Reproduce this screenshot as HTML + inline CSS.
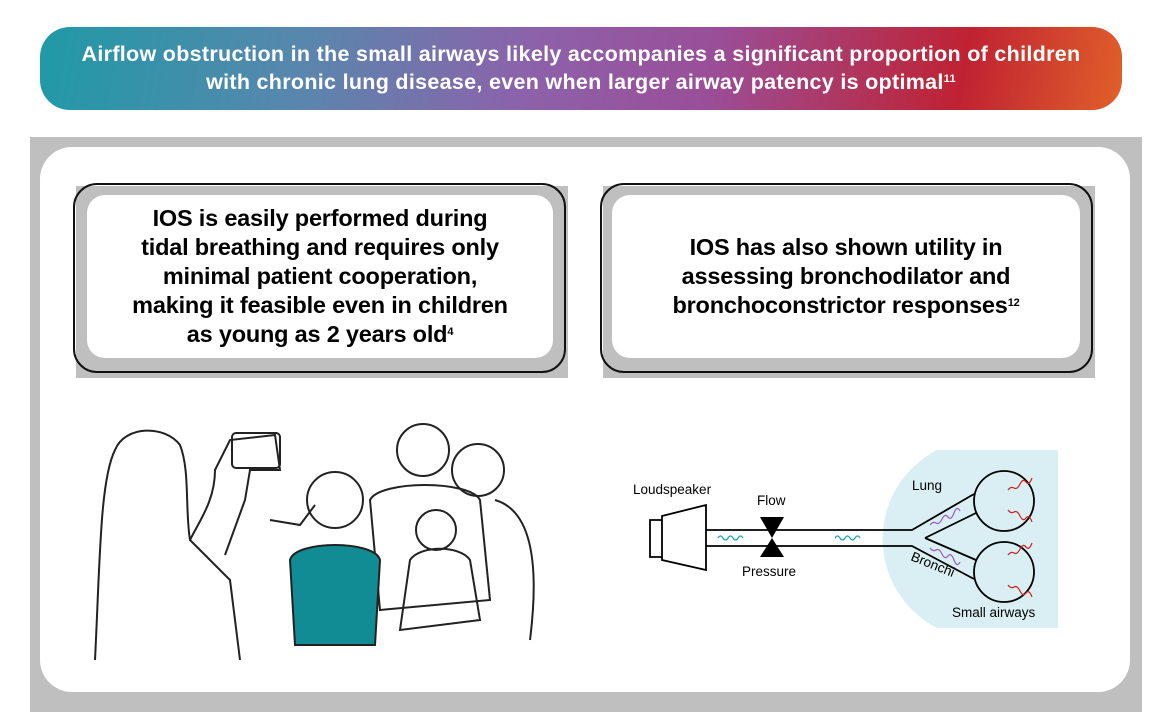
<!DOCTYPE html>
<html><head><meta charset="utf-8"><style>
body{margin:0;width:1162px;height:727px;background:#fff;position:relative;overflow:hidden;font-family:"Liberation Sans",Arial,sans-serif}
.hdr{position:absolute;left:40px;top:27px;width:1082px;height:83px;border-radius:30px;background:linear-gradient(100deg,#1f9aa6 0%,#5a86ad 25%,#8c62aa 45%,#9a4e98 62%,#c02232 85%,#e0602a 100%);color:#fff;font-weight:bold;font-size:21.5px;letter-spacing:0.3px;text-align:center;line-height:28px;padding-top:13px;box-sizing:border-box;white-space:nowrap}
sup{font-size:11px;vertical-align:7px;line-height:0}
.gray{position:absolute;left:30px;top:137px;width:1112px;height:575px;background:#bfbfbf}
.white{position:absolute;left:40px;top:147px;width:1090px;height:545px;background:#fff;border-radius:32px}
.cg{position:absolute;background:#bfbfbf}
.cb{position:absolute;border:2px solid #111;border-radius:24px;box-sizing:border-box}
.ci{position:absolute;background:#fff;border-radius:18px;display:flex;align-items:center;justify-content:center;text-align:center;font-weight:bold;font-size:23.5px;line-height:29px;color:#000;white-space:nowrap;letter-spacing:-0.2px}
</style></head><body>
<div class="hdr">Airflow obstruction in the small airways likely accompanies a significant proportion of children<br>with chronic lung disease, even when larger airway patency is optimal<sup>11</sup></div>
<div class="gray"></div><div class="white"></div>
<div class="cg" style="left:76px;top:186px;width:492px;height:192px"></div>
<div class="cb" style="left:73px;top:183px;width:493px;height:190px"></div>
<div class="ci" style="left:87px;top:195px;width:466px;height:163px"><div>IOS is easily performed during<br>tidal breathing and requires only<br>minimal patient cooperation,<br>making it feasible even in children<br>as young as 2 years old<sup>4</sup></div></div>
<div class="cg" style="left:603px;top:186px;width:492px;height:192px"></div>
<div class="cb" style="left:600px;top:183px;width:493px;height:190px"></div>
<div class="ci" style="left:612px;top:195px;width:468px;height:163px"><div>IOS has also shown utility in<br>assessing bronchodilator and<br>bronchoconstrictor responses<sup>12</sup></div></div>

<svg style="position:absolute;left:0;top:0" width="1162" height="727">
<g fill="none" stroke="#222" stroke-width="2">
<path d="M95 660 C100 560 100 480 115 450 C125 425 165 425 180 445 C190 470 185 510 190 540 L230 580 L240 660"/>
<path d="M190 540 C200 520 215 500 215 470 L230 440 L275 435 L280 470 L250 470 L245 500 L225 555"/>
<rect x="232" y="433" width="48" height="35" rx="4"/>
<path d="M270 520 L300 525 L315 505"/>
<circle cx="335" cy="500" r="28"/>
<circle cx="423" cy="450" r="26"/>
<path d="M370 500 C380 480 470 480 480 500 L490 600 L380 610 Z"/>
<circle cx="478" cy="470" r="26"/>
<circle cx="436" cy="530" r="20"/>
<path d="M410 560 C420 545 460 545 470 560 L480 620 L400 630 Z"/>
<path d="M495 500 C530 510 540 560 530 640"/>
</g>
<path d="M290 560 C295 540 375 540 380 560 L375 645 L295 645 Z" fill="#118c95" stroke="#222" stroke-width="2"/>
<path d="M937 450 L1058 450 L1058 628 L937 628 A100 100 0 0 1 937 450 Z" fill="#daeff3"/>
<g fill="none" stroke="#000" stroke-width="1.8">
<path d="M650 520 L662 520 L662 557 L650 557 Z M662 516 L706 505 L706 570 L662 560 Z"/>
<path d="M706 530 L912 530 L974 494 M706 546 L912 546 L974 579 M925 538 L976 513 M925 538 L976 560"/>
<circle cx="1004" cy="501" r="30"/><circle cx="1004" cy="572" r="30"/>
</g>
<path d="M760 517 L784 517 L772 538 Z M772 538 L760 557 L784 557 Z" fill="#000"/>
<g fill="none" stroke="#1aa8b4" stroke-width="1.2"><path d="M718 538 q2.5 -4 5 0 t5 0 t5 0 t5 0 t5 0"/><path d="M835 538 q2.5 -4 5 0 t5 0 t5 0 t5 0 t5 0"/></g>
<g fill="none" stroke="#9a5cc0" stroke-width="1.2"><path d="M930 525 q3 -4 6 -2 t6 -4 t6 -2 t6 -4 t6 -2"/><path d="M930 548 q3 4 6 2 t6 4 t6 2 t6 4 t6 2"/></g>
<g fill="none" stroke="#d02020" stroke-width="1.2"><path d="M1008 490 q3 -4 6 -2 t6 -4 t6 -2 t6 -4"/><path d="M1008 510 q3 4 6 2 t6 4 t6 2 t6 4"/><path d="M1008 555 q3 -4 6 -2 t6 -4 t6 -2 t6 -4"/><path d="M1008 585 q3 4 6 2 t6 4 t6 2 t6 4"/></g>
<g font-family="Liberation Sans,sans-serif" font-size="13.5" fill="#000">
<text x="633" y="494">Loudspeaker</text><text x="757" y="505">Flow</text><text x="742" y="576">Pressure</text>
<text x="912" y="490">Lung</text><text x="952" y="617">Small  airways</text>
<text x="910" y="560" transform="rotate(22 910 560)">Bronchi</text></g>
</svg>
</body></html>
